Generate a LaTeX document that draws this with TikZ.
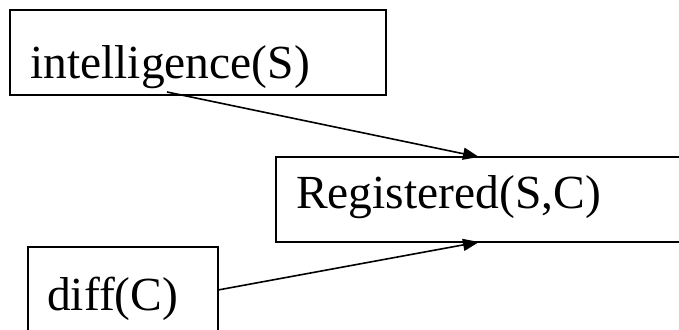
\documentclass[tikz,border=0pt]{standalone}
\usepackage{fontspec}
\setmainfont{Liberation Serif}
\usetikzlibrary{arrows.meta}
\begin{document}
\begin{tikzpicture}[x=1pt,y=-1pt,
  box/.style={draw=black, line width=1.3pt, rectangle, inner sep=0pt, outer sep=0pt, anchor=north west},
  lbl/.style={inner sep=0pt, anchor=base west, font=\fontsize{47.5}{52}\selectfont},
  conn/.style={line width=1.6pt, -{Triangle[length=16pt,width=12pt]}}]
\useasboundingbox (0,0) rectangle (679,329);
\node[box, minimum width=376pt, minimum height=85pt] (int) at (10,10) {};
\node[box, minimum width=420pt, minimum height=85pt] (reg) at (276,157) {};
\node[box, minimum width=190pt, minimum height=110pt] (dif) at (28,247) {};
\node[lbl] (tint) at (30,78) {intelligence(S)};
\node[lbl] (treg) at (296,208) {Registered(S,C)};
\node[lbl] (tdif) at (47,310) {diff(C)};
\coordinate (s1) at ([xshift=157pt,yshift=3pt]int.south west);
\coordinate (e1) at ([xshift=203pt]reg.north west);
\coordinate (s2) at ([yshift=-43pt]dif.north east);
\coordinate (e2) at ([xshift=203pt]reg.south west);
\draw[conn] (s1) -- (e1);
\draw[conn] (s2) -- (e2);
\end{tikzpicture}
\end{document}
